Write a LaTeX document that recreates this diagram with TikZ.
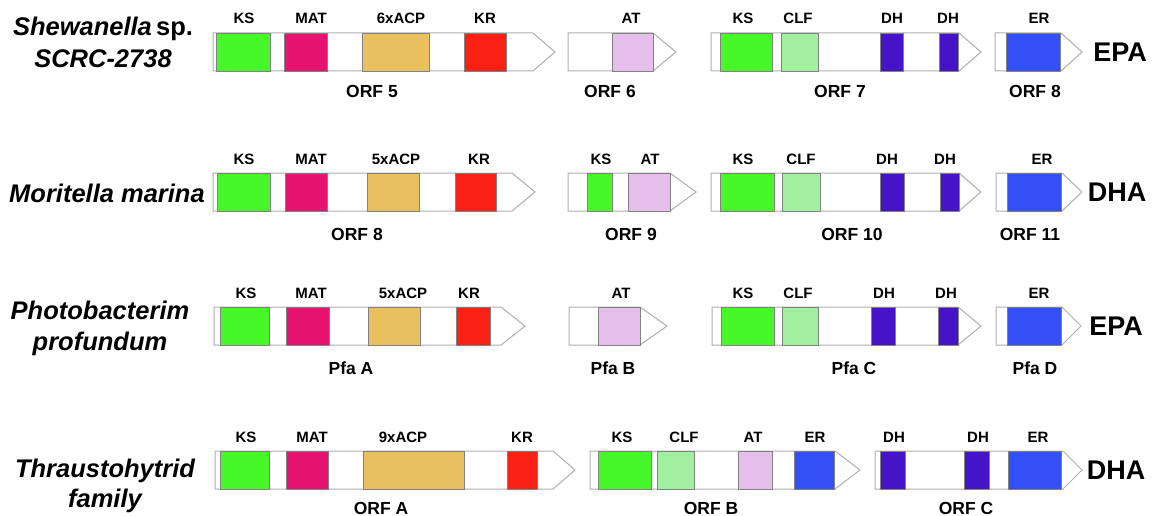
\documentclass[tikz,border=0pt]{standalone}
\usepackage{fontspec}
\setmainfont{Liberation Sans}
\definecolor{ksgreen}{RGB}{70,248,40}
\definecolor{matpink}{RGB}{230,20,110}
\definecolor{acptan}{RGB}{232,192,96}
\definecolor{krred}{RGB}{250,32,20}
\definecolor{atpink}{RGB}{230,190,235}
\definecolor{clfgreen}{RGB}{160,240,160}
\definecolor{dhpurple}{RGB}{70,20,200}
\definecolor{erblue}{RGB}{50,80,245}
\definecolor{geneline}{RGB}{175,175,175}
\definecolor{domline}{RGB}{130,130,130}
\tikzset{
  genebox/.style={draw=geneline, fill=white, line width=1pt, line join=miter},
  dombox/.style={draw=domline, line width=0.6pt},
  dlab/.style={font=\fontsize{15}{18}\selectfont\bfseries, anchor=base, inner sep=0pt},
  olab/.style={font=\fontsize{17.5}{20}\selectfont\bfseries, anchor=base, inner sep=0pt},
  species/.style={font=\fontsize{25.5}{30}\selectfont\bfseries\itshape, anchor=base, inner sep=0pt},
  product/.style={font=\fontsize{27}{30}\selectfont\bfseries, anchor=center, inner sep=0pt},
}
% #1 left, #2 body end, #3 tip, #4 top
\newcommand{\pksgene}[4]{%
  \draw[genebox] (#1,#4) -- (#2,#4) -- (#3,#4+19) -- (#2,#4+38) -- (#1,#4+38) -- cycle;}
% #1 x1, #2 x2, #3 top, #4 colour, #5 label x, #6 label, #7 node name
\newcommand{\pksdom}[7]{%
  \fill[#4] (#1,#3) rectangle (#2,#3+38);
  \draw[dombox] (#1,#3) rectangle (#2,#3+38);
  \node[dlab] (#7) at (#5,#3-9) {#6};}
\begin{document}
\begin{tikzpicture}[x=1pt,y=-1pt]
\useasboundingbox (0,0) rectangle (1158,516);
\fill[white] (0,0) rectangle (1158,516);

% ---------------- Row 1 : Shewanella ----------------
\node[species] (sp1a) at (103,36) {Shewanella\,{\upshape sp.}};
\node[species] (sp1b) at (103,68) {SCRC-2738};
\pksgene{213}{533}{555}{33}
\pksdom{216}{270}{33}{ksgreen}{244}{KS}{r1ks}
\pksdom{284}{327}{33}{matpink}{311}{MAT}{r1mat}
\pksdom{362}{429}{33}{acptan}{401}{6xACP}{r1acp}
\pksdom{464}{506}{33}{krred}{485}{KR}{r1kr}
\node[olab] (r1o5) at (372,98) {ORF 5};
\pksgene{568}{653}{676}{33}
\pksdom{612}{653}{33}{atpink}{631}{AT}{r1at}
\node[olab] (r1o6) at (610,98) {ORF 6};
\pksgene{711}{959}{981}{33}
\pksdom{720}{772}{33}{ksgreen}{743}{KS}{r1ks2}
\pksdom{781}{818}{33}{clfgreen}{798}{CLF}{r1clf}
\pksdom{880}{903}{33}{dhpurple}{892}{DH}{r1dh1}
\pksdom{939}{958}{33}{dhpurple}{948}{DH}{r1dh2}
\node[olab] (r1o7) at (840,98) {ORF 7};
\pksgene{995}{1061}{1082}{33}
\pksdom{1006}{1060}{33}{erblue}{1039}{ER}{r1er}
\node[olab] (r1o8) at (1035,98) {ORF 8};
\node[product] (r1p) at (1120,52) {EPA};

% ---------------- Row 2 : Moritella ----------------
\node[species] (sp2) at (107,202) {Moritella marina};
\pksgene{213}{512}{535}{173}
\pksdom{217}{270}{173}{ksgreen}{244}{KS}{r2ks}
\pksdom{285}{327}{173}{matpink}{311}{MAT}{r2mat}
\pksdom{367}{419}{173}{acptan}{396}{5xACP}{r2acp}
\pksdom{455}{496}{173}{krred}{479}{KR}{r2kr}
\node[olab] (r2o8) at (357,240) {ORF 8};
\pksgene{568}{670}{696}{173}
\pksdom{587}{612}{173}{ksgreen}{601}{KS}{r2ks2}
\pksdom{628}{670}{173}{atpink}{650}{AT}{r2at}
\node[olab] (r2o9) at (631,240) {ORF 9};
\pksgene{711}{959}{981}{173}
\pksdom{720}{774}{173}{ksgreen}{743}{KS}{r2ks3}
\pksdom{782}{820}{173}{clfgreen}{801}{CLF}{r2clf}
\pksdom{880}{904}{173}{dhpurple}{887}{DH}{r2dh1}
\pksdom{940}{959}{173}{dhpurple}{945}{DH}{r2dh2}
\node[olab] (r2o10) at (852,240) {ORF 10};
\pksgene{996}{1062}{1082}{173}
\pksdom{1007}{1061}{173}{erblue}{1042}{ER}{r2er}
\node[olab] (r2o11) at (1030,240) {ORF 11};
\node[product] (r2p) at (1117,192) {DHA};

% ---------------- Row 3 : Photobacterium ----------------
\node[species] (sp3a) at (100,319) {Photobacterim};
\node[species] (sp3b) at (100,350) {profundum};
\pksgene{214}{501}{525}{307}
\pksdom{220}{269}{307}{ksgreen}{246}{KS}{r3ks}
\pksdom{286}{329}{307}{matpink}{311}{MAT}{r3mat}
\pksdom{368}{420}{307}{acptan}{403}{5xACP}{r3acp}
\pksdom{456}{490}{307}{krred}{469}{KR}{r3kr}
\node[olab] (r3a) at (351,374) {Pfa A};
\pksgene{569}{640}{667}{307}
\pksdom{598}{640}{307}{atpink}{621}{AT}{r3at}
\node[olab] (r3b) at (613,374) {Pfa B};
\pksgene{712}{958}{981}{307}
\pksdom{721}{774}{307}{ksgreen}{743}{KS}{r3ks2}
\pksdom{782}{818}{307}{clfgreen}{798}{CLF}{r3clf}
\pksdom{871}{895}{307}{dhpurple}{884}{DH}{r3dh1}
\pksdom{938}{958}{307}{dhpurple}{946}{DH}{r3dh2}
\node[olab] (r3c) at (854,374) {Pfa C};
\pksgene{996}{1062}{1081}{307}
\pksdom{1007}{1061}{307}{erblue}{1039}{ER}{r3er}
\node[olab] (r3d) at (1035,374) {Pfa D};
\node[product] (r3p) at (1116,326) {EPA};

% ---------------- Row 4 : Thraustochytrid ----------------
\node[species] (sp4a) at (105,477) {Thraustohytrid};
\node[species] (sp4b) at (105,507) {family};
\pksgene{215}{553}{575}{451}
\pksdom{220}{269}{451}{ksgreen}{246}{KS}{r4ks}
\pksdom{286}{328}{451}{matpink}{312}{MAT}{r4mat}
\pksdom{363}{464}{451}{acptan}{403}{9xACP}{r4acp}
\pksdom{507}{537}{451}{krred}{522}{KR}{r4kr}
\node[olab] (r4a) at (381,514) {ORF A};
\pksgene{590}{835}{860}{451}
\pksdom{598}{651}{451}{ksgreen}{622}{KS}{r4ks2}
\pksdom{657}{694}{451}{clfgreen}{684}{CLF}{r4clf}
\pksdom{738}{772}{451}{atpink}{753}{AT}{r4at}
\pksdom{794}{834}{451}{erblue}{815}{ER}{r4er}
\node[olab] (r4b) at (711,514) {ORF B};
\pksgene{875}{1063}{1082}{451}
\pksdom{880}{905}{451}{dhpurple}{894}{DH}{r4dh1}
\pksdom{964}{989}{451}{dhpurple}{978}{DH}{r4dh2}
\pksdom{1008}{1061}{451}{erblue}{1038}{ER}{r4er2}
\node[olab] (r4c) at (966,514) {ORF C};
\node[product] (r4p) at (1116,470) {DHA};
\end{tikzpicture}
\end{document}
